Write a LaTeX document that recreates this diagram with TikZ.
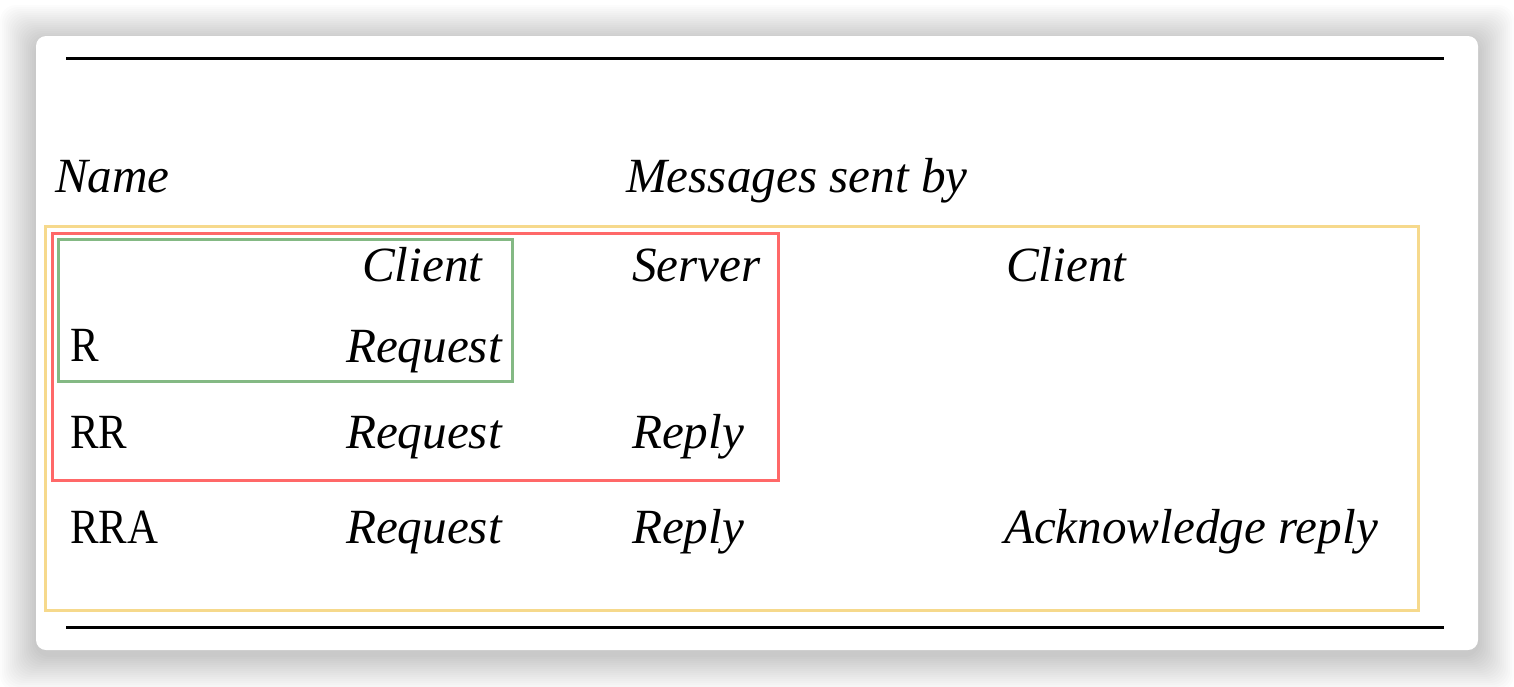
\documentclass[tikz,border=0pt]{standalone}
\usepackage{fontspec}
\setmainfont{Liberation Serif}
\newfontfamily\namefont[FakeStretch=0.87]{Liberation Serif}
\definecolor{boxyellow}{HTML}{F6D98C}
\definecolor{boxred}{HTML}{FF6868}
\definecolor{boxgreen}{HTML}{84B984}
\newcommand{\tablefont}{\fontsize{24.6}{29}\selectfont}
\tikzstyle{cell}=[anchor=base west, inner sep=0, outer sep=0, font=\tablefont\namefont]
\tikzstyle{icell}=[cell, font=\tablefont\rmfamily\itshape]
\tikzstyle{rule}=[line width=1.5pt]
\tikzstyle{groupbox}=[line width=1.5pt]
\tikzstyle{card}=[fill=white, rounded corners=5pt]
\tikzstyle{shadowlayer}=[fill=black, fill opacity=0.011, rounded corners=8pt]

\begin{document}
\begin{tikzpicture}[x=0.5pt, y=-0.5pt]
        \useasboundingbox[fill=white] (0, 0) rectangle (1514, 686);
        % soft shadow under the card
        \foreach \s in {2,4,...,36}
            \path[shadowlayer] (36-\s, 41-\s) rectangle (1478+\s, 655+\s);
        \path[card] (36, 36) rectangle (1478, 650);
        % rules of the table
        \coordinate (topL) at (66, 58);
        \coordinate (topR) at (1444, 58);
        \coordinate (botL) at (66, 627);
        \coordinate (botR) at (1444, 627);
        \draw[rule] (topL) -- (topR);
        \draw[rule] (botL) -- (botR);
        % header
        \node[icell] (hname) at (55, 192) {Name};
        \node[icell] (hsent) at (626, 192) {Messages sent by};
        \node[icell] (hcli)  at (362, 281) {Client};
        \node[icell] (hsrv)  at (632, 281) {Server};
        \node[icell] (hcli2) at (1006, 281) {Client};
        % rows
        \node[cell]  (r)     at (70, 361) {R};
        \node[icell] (rreq)  at (346, 362) {Request};
        \node[cell]  (rr)    at (70, 448) {RR};
        \node[icell] (rrreq) at (346, 448) {Request};
        \node[icell] (rrrep) at (632, 448) {Reply};
        \node[cell]  (rra)   at (70, 543) {RRA};
        \node[icell] (rrareq) at (346, 543) {Request};
        \node[icell] (rrarep) at (632, 543) {Reply};
        \node[icell] (rraack) at (1004, 543) {Acknowledge reply};
        % grouping boxes
        \draw[groupbox, boxyellow] (45, 226) rectangle (1418, 610);
        \draw[groupbox, boxred]    (52, 233) rectangle (778, 480);
        \draw[groupbox, boxgreen]  (58, 239) rectangle (512, 381);
    \end{tikzpicture}
\end{document}
